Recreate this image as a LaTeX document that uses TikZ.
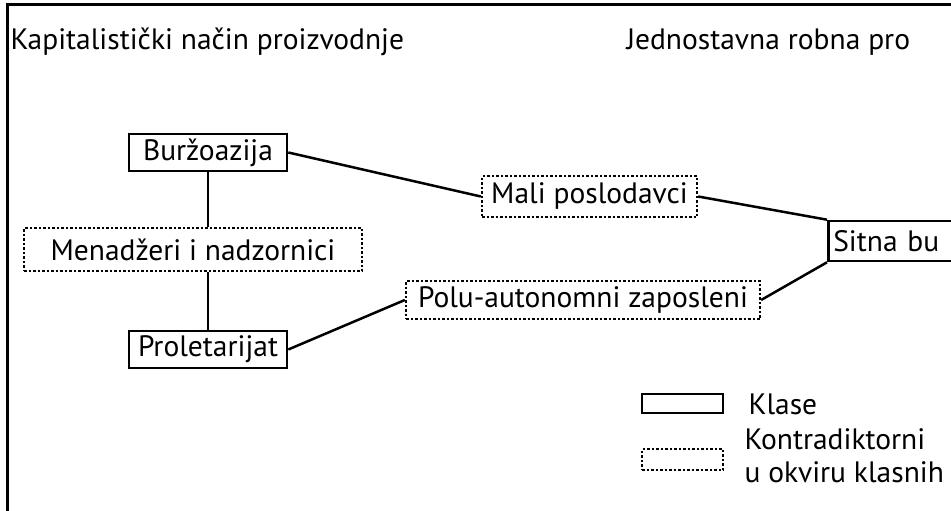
\documentclass[tikz,border=0pt]{standalone}
\usepackage{fontspec}
\setmainfont{PT Sans}
\usetikzlibrary{positioning}
\tikzset{
  klasa/.style={draw, line width=2.6pt, inner sep=0pt},
  kontra/.style={draw, line width=2.3pt, inner sep=0pt, dash pattern=on 2.5pt off 2pt},
  veza/.style={line width=2.5pt}
}
\begin{document}
\begin{tikzpicture}[x=1pt, y=-1pt, font=\fontsize{29.5}{33}\selectfont]
\useasboundingbox (0,0) rectangle (951,511);
\clip (0,0) rectangle (951,511);
\draw[line width=3pt] (7,600) -- (7,5) -- (1000,5);
% naslovi
\node[anchor=west] (kap) at (7,42) {Kapitalistički način proizvodnje};
\node[anchor=west] (jed) at (623,42) {Jednostavna robna pro};
% klase
\node[klasa, minimum width=158pt, minimum height=37pt] (burz) at (208,152.5) {Buržoazija};
\node[klasa, minimum width=158pt, minimum height=37pt] (prolet) at (208,349.5) {Proletarijat};
\node[klasa, anchor=west, minimum width=200pt, minimum height=40pt, text width=190pt, align=left] (sitna) at (827,241) {Sitna bu};
% kontradiktorni polozaji
\node[kontra, minimum width=338pt, minimum height=43pt] (menadz) at (193,249.5) {Menadžeri i nadzornici};
\node[kontra, minimum width=215pt, minimum height=41pt] (mali) at (589.5,196.5) {Mali poslodavci};
\node[kontra, minimum width=354pt, minimum height=38pt] (polu) at (583,300) {Polu-autonomni zaposleni};
\draw[veza] (burz.south) -- (burz.south |- menadz.north);
\draw[veza] (prolet.north |- menadz.south) -- (prolet.north);
\draw[veza] (burz.east) -- (mali.west);
\draw[veza] (mali.east) -- (sitna.north west);
\draw[veza] (prolet.east) -- (polu.west);
\draw[veza] (polu.east) -- (sitna.south west);
% legenda
\node[klasa, minimum width=81pt, minimum height=19pt] (lklasa) at (682.5,403.5) {};
\node[kontra, minimum width=81pt, minimum height=21pt] (lkontra) at (682.5,459.5) {};
\node[anchor=west] (tklasa) at (745,404) {Klase};
\node[anchor=west, align=left] (tkontra) at (741,456) {Kontradiktorni\\u okviru klasnih};
\end{tikzpicture}
\end{document}
